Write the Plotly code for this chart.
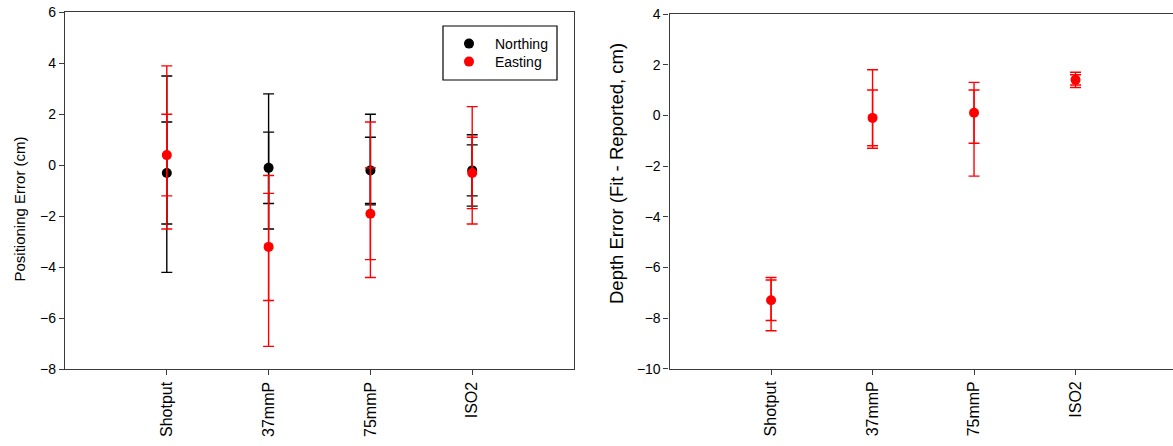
import plotly.graph_objects as go

categories = ["Shotput", "37mmP", "75mmP", "ISO2"]

# Left panel: positioning error (cm)
northing = [-0.3, -0.1, -0.2, -0.2]
northing_inner_hi = [1.7, 1.3, 1.1, 0.8]
northing_inner_lo = [-2.3, -1.5, -1.5, -1.2]
northing_outer_hi = [3.5, 2.8, 2.0, 1.2]
northing_outer_lo = [-4.2, -2.5, -1.55, -1.6]

easting = [0.4, -3.2, -1.9, -0.3]
easting_inner_hi = [2.0, -1.1, -0.1, 1.1]
easting_inner_lo = [-1.2, -5.3, -3.7, -1.7]
easting_outer_hi = [3.9, -0.4, 1.7, 2.3]
easting_outer_lo = [-2.5, -7.1, -4.4, -2.3]

# Right panel: depth error (cm)
depth = [-7.3, -0.1, 0.1, 1.4]
depth_inner_hi = [-6.5, 1.0, 1.0, 1.6]
depth_inner_lo = [-8.1, -1.2, -1.1, 1.2]
depth_outer_hi = [-6.4, 1.8, 1.3, 1.7]
depth_outer_lo = [-8.5, -1.3, -2.4, 1.1]

FONT = "Liberation Sans, Arial, sans-serif"
W, H = 1173, 446
AX = "#3a3a3a"


def err_trace(y, hi, lo, color, xa, ya):
    return go.Scatter(
        x=categories, y=y, mode="markers", xaxis=xa, yaxis=ya,
        marker=dict(size=1, color="rgba(0,0,0,0)"),
        error_y=dict(type="data", symmetric=False,
                     array=[h - v for h, v in zip(hi, y)],
                     arrayminus=[v - l for l, v in zip(lo, y)],
                     color=color, thickness=1.4, width=5.5),
        showlegend=False, hoverinfo="skip")


def point_trace(y, color, name, xa, ya, legend=None):
    t = dict(x=categories, y=y, mode="markers", xaxis=xa, yaxis=ya,
             marker=dict(size=10, color=color), name=name,
             showlegend=legend is not None)
    if legend:
        t["legend"] = legend
    return go.Scatter(**t)


fig = go.Figure()
fig.add_trace(err_trace(northing, northing_outer_hi, northing_outer_lo, "black", "x", "y"))
fig.add_trace(err_trace(northing, northing_inner_hi, northing_inner_lo, "black", "x", "y"))
fig.add_trace(point_trace(northing, "black", "Northing", "x", "y", "legend"))
fig.add_trace(err_trace(easting, easting_outer_hi, easting_outer_lo, "red", "x", "y"))
fig.add_trace(err_trace(easting, easting_inner_hi, easting_inner_lo, "red", "x", "y"))
fig.add_trace(point_trace(easting, "red", "Easting", "x", "y", "legend2"))

fig.add_trace(err_trace(depth, depth_outer_hi, depth_outer_lo, "red", "x2", "y2"))
fig.add_trace(err_trace(depth, depth_inner_hi, depth_inner_lo, "red", "x2", "y2"))
fig.add_trace(point_trace(depth, "red", "Depth", "x2", "y2"))

# pixel geometry
L1, R1 = 65, 574
L2, R2 = 669.6, 1173
T1, B1 = 12.3, 369.3
T2, B2 = 14, 368.7
sp2 = (1177 - L2) / 5.0


def px(v):
    return v / W


def py(v):
    return 1 - v / H


xcommon = dict(type="category", showline=True, mirror=True, linecolor=AX, linewidth=1.3,
               ticks="outside", ticklen=5, tickcolor=AX, tickangle=-90,
               tickfont=dict(family=FONT, size=16, color="black"),
               showgrid=False, zeroline=False, automargin=False)
ycommon = dict(showline=True, mirror=True, linecolor=AX, linewidth=1.3,
               ticks="outside", ticklen=5, tickcolor=AX, dtick=2,
               tickfont=dict(family=FONT, size=14, color="black"),
               showgrid=False, zeroline=False, automargin=False)
ovl = dict(ticks="inside", ticklen=5, tickcolor=AX, dtick=2, showticklabels=False,
           showline=False, showgrid=False, zeroline=False,
           minor=dict(ticks="inside", ticklen=3, dtick=0.5, tickcolor=AX, showgrid=False))

legfont = dict(family=FONT, size=14, color="black")

fig.update_layout(
    width=W, height=H, margin=dict(l=0, r=0, t=0, b=0),
    paper_bgcolor="white", plot_bgcolor="white",
    font=dict(family=FONT, size=13, color="black"),
    xaxis=dict(domain=[px(L1), px(R1)], anchor="y", range=[-1, 4], **xcommon),
    yaxis=dict(domain=[py(B1), py(T1)], anchor="x", range=[-8, 6], **ycommon),
    xaxis2=dict(domain=[px(L2), px(R2)], anchor="y2",
                range=[-1, -1 + (R2 - L2) / sp2], **xcommon),
    yaxis2=dict(domain=[py(B2), py(T2)], anchor="x2", range=[-10, 4], **ycommon),
    yaxis3=dict(overlaying="y", anchor="x", side="left", range=[-8, 6], **ovl),
    yaxis4=dict(overlaying="y", anchor="x", side="right", range=[-8, 6], **ovl),
    yaxis5=dict(overlaying="y2", anchor="x2", side="left", range=[-10, 4], **ovl),
    yaxis6=dict(overlaying="y2", anchor="x2", side="right", range=[-10, 4], **ovl),
    legend=dict(x=px(443), y=py(44), xanchor="left", yanchor="middle",
                bgcolor="rgba(0,0,0,0)", borderwidth=0, font=legfont, itemwidth=42),
    legend2=dict(x=px(443), y=py(62), xanchor="left", yanchor="middle",
                 bgcolor="rgba(0,0,0,0)", borderwidth=0, font=legfont, itemwidth=42),
    showlegend=True,
    shapes=[dict(type="rect", xref="paper", yref="paper",
                 x0=px(443), x1=px(557), y0=py(80), y1=py(26),
                 line=dict(color="black", width=1.2), fillcolor="rgba(0,0,0,0)")],
    annotations=[
        dict(text="Positioning Error (cm)", x=px(18.5), y=py(209), xref="paper", yref="paper",
             xanchor="center", yanchor="middle",
             textangle=-90, showarrow=False, font=dict(family=FONT, size=15)),
        dict(text="Depth Error (Fit - Reported, cm)", x=px(616), y=py(174), xref="paper",
             yref="paper", xanchor="center", yanchor="middle",
             textangle=-90, showarrow=False, font=dict(family=FONT, size=18.5)),
    ],
)

fig.write_html("out.html", config={"displayModeBar": False},
               post_script="document.body.style.margin='0';document.body.style.overflow='hidden';")
